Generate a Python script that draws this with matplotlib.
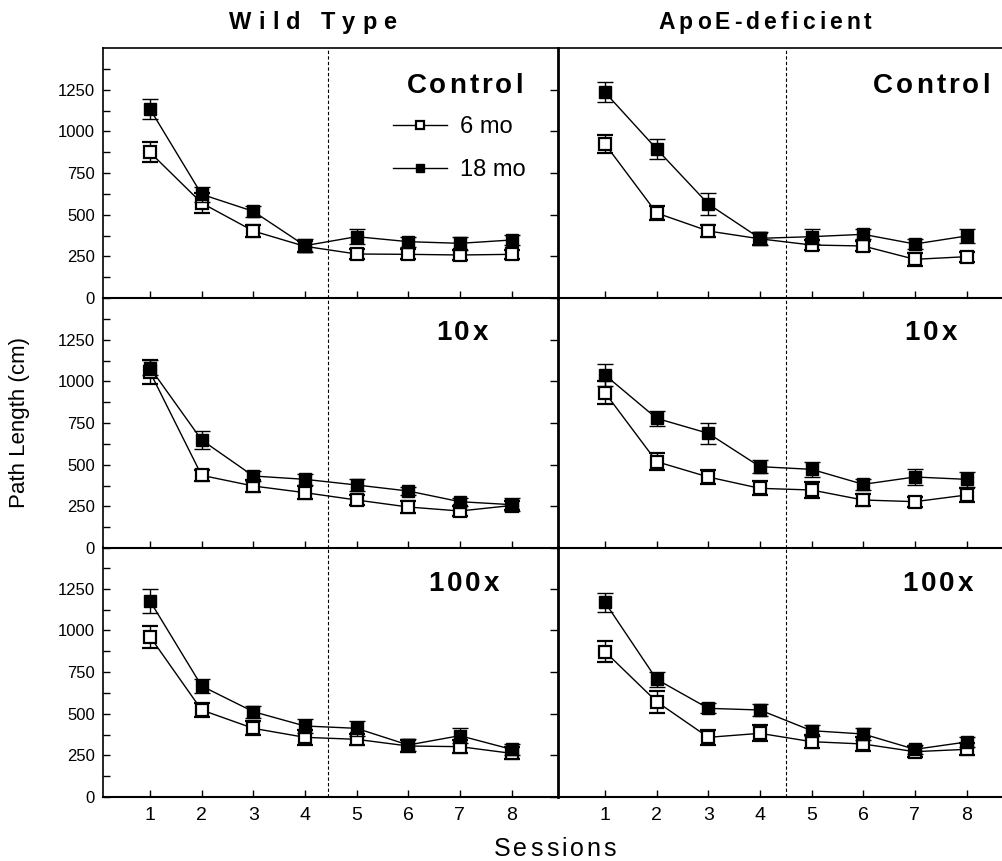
import numpy as np
import matplotlib
matplotlib.use("Agg")
import matplotlib.pyplot as plt

plt.rcParams['font.family'] = ['Liberation Sans', 'DejaVu Sans']

# sessions on the x axis
sessions = [1, 2, 3, 4, 5, 6, 7, 8]

# Wild Type - mean path length (cm) and SEM
wt_ctrl_6 = [874, 570, 402, 310, 264, 262, 258, 262]
wt_ctrl_6_err = [60, 60, 35, 35, 30, 30, 30, 28]
wt_ctrl_18 = [1134, 622, 520, 314, 368, 338, 328, 348]
wt_ctrl_18_err = [60, 45, 35, 40, 45, 30, 40, 30]

wt_10_6 = [1056, 436, 372, 332, 288, 246, 222, 255]
wt_10_6_err = [70, 35, 35, 40, 30, 34, 30, 25]
wt_10_18 = [1082, 648, 432, 412, 378, 342, 278, 260]
wt_10_18_err = [45, 52, 30, 34, 34, 26, 24, 40]

wt_100_6 = [962, 522, 412, 358, 346, 306, 302, 262]
wt_100_6_err = [65, 42, 42, 46, 34, 34, 40, 36]
wt_100_18 = [1176, 666, 512, 426, 412, 312, 368, 286]
wt_100_18_err = [70, 40, 36, 40, 44, 34, 44, 32]

# ApoE-deficient
apo_ctrl_6 = [924, 510, 402, 355, 318, 312, 232, 248]
apo_ctrl_6_err = [55, 40, 35, 35, 30, 30, 40, 30]
apo_ctrl_18 = [1234, 894, 564, 358, 368, 382, 324, 372]
apo_ctrl_18_err = [60, 58, 64, 40, 45, 30, 28, 40]

apo_10_6 = [932, 518, 426, 358, 348, 288, 278, 318]
apo_10_6_err = [70, 50, 42, 42, 46, 36, 30, 40]
apo_10_18 = [1038, 778, 688, 488, 472, 382, 426, 412]
apo_10_18_err = [68, 46, 64, 38, 46, 34, 46, 44]

apo_100_6 = [872, 572, 358, 382, 332, 318, 272, 286]
apo_100_6_err = [62, 65, 45, 48, 38, 42, 34, 36]
apo_100_18 = [1168, 706, 532, 522, 398, 378, 286, 330]
apo_100_18_err = [58, 46, 30, 34, 34, 34, 26, 30]

group_titles = ["Wild Type", "ApoE-deficient"]
row_labels = ["Control", "10x", "100x"]
series_labels = ["6 mo", "18 mo"]
ytick_vals = [0, 250, 500, 750, 1000, 1250]
ytick_minor = [125, 375, 625, 875, 1125, 1375]

panels = [
    [(wt_ctrl_6, wt_ctrl_6_err, wt_ctrl_18, wt_ctrl_18_err),
     (apo_ctrl_6, apo_ctrl_6_err, apo_ctrl_18, apo_ctrl_18_err)],
    [(wt_10_6, wt_10_6_err, wt_10_18, wt_10_18_err),
     (apo_10_6, apo_10_6_err, apo_10_18, apo_10_18_err)],
    [(wt_100_6, wt_100_6_err, wt_100_18, wt_100_18_err),
     (apo_100_6, apo_100_6_err, apo_100_18, apo_100_18_err)],
]

W, H = 1003, 861
fig = plt.figure(figsize=(W / 100, H / 100), dpi=100)
ren = fig.canvas.get_renderer()


def spaced(x_px, y_px, s, size, gap, ha='center', weight='bold'):
    # text with extra letter spacing, y_px is the baseline
    ws = []
    for ch in s:
        if ch == ' ':
            ws.append(size * 100 / 72 * 0.28)
            continue
        t = fig.text(0, 0, ch, fontsize=size, fontweight=weight)
        ws.append(t.get_window_extent(ren).width)
        t.remove()
    total = sum(ws) + gap * (len(s) - 1)
    x = x_px - total / 2 if ha == 'center' else x_px - total
    for ch, w in zip(s, ws):
        if ch != ' ':
            fig.text(x / W, 1 - y_px / H, ch, fontsize=size, fontweight=weight,
                     ha='left', va='baseline')
        x += w + gap


col_left = [103, 558]
col_w = 455
row_top = [48, 298, 547]
row_h = 250
# right edge (px) and baseline (px) of the panel labels
lab_right = [[523, 990], [488, 957], [499, 973]]
lab_base = [93, 340, 591]

for r in range(3):
    for c in range(2):
        x0 = col_left[c] / W
        y0 = 1 - (row_top[r] + row_h) / H
        ax = fig.add_axes([x0, y0, col_w / W, row_h / H])
        ax.patch.set_visible(False)
        m6, e6, m18, e18 = panels[r][c]
        eb6 = ax.errorbar(sessions, m6, yerr=e6, fmt='-s', color='black', mfc='white',
                          mec='black', ms=9, mew=1.6, lw=1, elinewidth=1, capsize=6,
                          capthick=1, zorder=3)
        eb18 = ax.errorbar(sessions, m18, yerr=e18, fmt='-s', color='black', mfc='black',
                           mec='black', ms=9, mew=1, lw=1, elinewidth=1, capsize=6,
                           capthick=1, zorder=4)
        ax.axvline(4.45 if c == 0 else 4.5, color='black', lw=0.8, ls=(0, (3, 2)), zorder=1)
        ax.set_xlim(0.09, 8.9)
        ax.set_ylim(0, 1500)
        ax.set_xticks(sessions)
        ax.spines['right'].set_visible(False)
        ax.spines['top'].set_visible(r == 0)
        ax.spines['left'].set_linewidth(2 if c == 1 else 1.2)
        ax.spines['bottom'].set_linewidth(1.5)
        ax.spines['top'].set_linewidth(1.2)
        ax.tick_params(axis='x', direction='in', length=5, width=1, labelsize=14,
                       labelbottom=(r == 2), pad=7)
        ax.set_yticks(ytick_vals)
        if c == 0:
            ax.set_yticks(ytick_minor, minor=True)
            ax.tick_params(axis='y', which='both', direction='in', length=5, width=1,
                           labelsize=12, pad=6)
        else:
            ax.tick_params(axis='y', direction='out', length=6, width=1, labelleft=False)
        if r == 0 and c == 0:
            ax.legend([eb6[0], eb18[0]], series_labels, loc='upper left',
                      bbox_to_anchor=(0.617, 0.764), frameon=False, fontsize=17,
                      handlelength=2.3, handletextpad=0.55, labelspacing=0.89,
                      markerscale=0.7, borderaxespad=0)

for r in range(3):
    for c in range(2):
        spaced(lab_right[r][c], lab_base[r], row_labels[r], 20, 3, ha='right')

spaced(313, 29, group_titles[0], 17, 7)
spaced(765, 29, group_titles[1], 16.5, 4)
spaced(555, 856, "Sessions", 18, 3, weight='normal')

fig.text(20 / W, 1 - 422 / H, "Path Length (cm)", rotation=90, ha='center', va='center',
         fontsize=16)

fig.savefig("out.png", dpi=100)
